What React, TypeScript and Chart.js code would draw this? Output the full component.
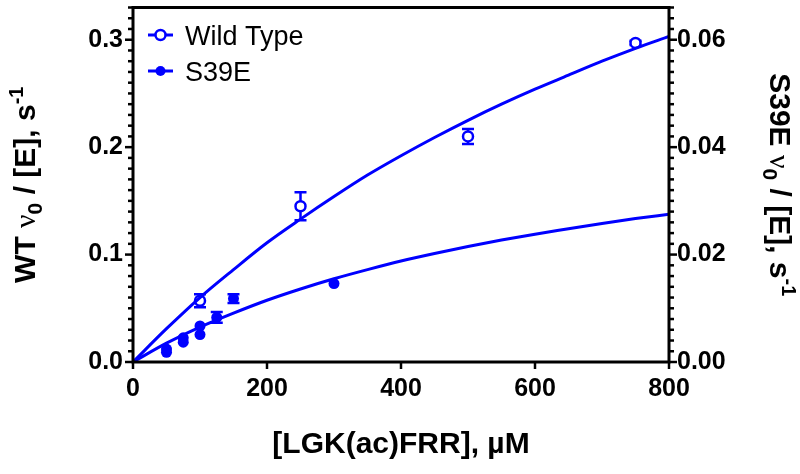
import React, { useEffect, useRef } from 'react';
import { Chart, registerables } from 'chart.js';

Chart.register(...registerables);

// ---- data ----
const xTicks = [0, 200, 400, 600, 800];
const wtTicks = [0, 0.1, 0.2, 0.3];
const s39eTicks = [0, 0.02, 0.04, 0.06];

const wtX = [100, 250, 500, 750];
const wtY = [0.057, 0.145, 0.21, 0.297];
const wtErr = [0.006, 0.013, 0.007, 0.002];

const s39eX = [50, 50, 75, 75, 100, 100, 125, 150, 300];
const s39eY = [0.0024, 0.0018, 0.0045, 0.0037, 0.0067, 0.0051, 0.0083, 0.0118, 0.0146];
const s39eErr = [0, 0, 0, 0, 0, 0, 0.001, 0.0008, 0];

const fitX = [0, 50, 100, 150, 200, 250, 300, 350, 400, 450, 500, 550, 600, 650, 700, 750, 800];
const wtFit = [0, 0.031, 0.06, 0.086, 0.111, 0.133, 0.154, 0.174, 0.192, 0.209, 0.225, 0.24, 0.254, 0.267, 0.28, 0.292, 0.303];
const s39eFit = [0, 0.0035, 0.0065, 0.0091, 0.0115, 0.0136, 0.0155, 0.0172, 0.0188, 0.0202, 0.0215, 0.0227, 0.0238, 0.0248, 0.0258, 0.0267, 0.0275];

const legendLabels = ['Wild Type', 'S39E'];

// ---- styles ----
const FONT = '"Liberation Sans", Arial, Helvetica, sans-serif';
const SERIF = '"Liberation Serif", "Times New Roman", serif';
const BLUE = '#0000ff';
const TICK_SIZE = 25;
const TITLE_SIZE = 30;

type Part = { text: string; font: string; dy: number };

function drawRich(ctx: CanvasRenderingContext2D, parts: Part[], cx: number, cy: number, angle: number, size: number) {
  ctx.save();
  ctx.translate(cx, cy);
  ctx.rotate(angle);
  ctx.textBaseline = 'alphabetic';
  ctx.textAlign = 'left';
  ctx.fillStyle = '#000';
  let total = 0;
  const widths = parts.map((p) => {
    ctx.font = p.font;
    const w = ctx.measureText(p.text).width;
    total += w;
    return w;
  });
  let x = -total / 2;
  const base = (size * 0.716) / 2;
  parts.forEach((p, i) => {
    ctx.font = p.font;
    ctx.fillText(p.text, x, base + p.dy);
    x += widths[i];
  });
  ctx.restore();
}

function titleParts(prefix: string): Part[] {
  return [
    { text: prefix + ' ', font: `bold ${TITLE_SIZE}px ${FONT}`, dy: 0 },
    { text: 'ν', font: `${TITLE_SIZE}px ${SERIF}`, dy: 0 },
    { text: '0', font: `bold ${Math.round(TITLE_SIZE * 0.7)}px ${FONT}`, dy: 7 },
    { text: ' / [E], s', font: `bold ${TITLE_SIZE}px ${FONT}`, dy: 0 },
    { text: '-1', font: `bold ${Math.round(TITLE_SIZE * 0.65)}px ${FONT}`, dy: -12 },
  ];
}

const decorPlugin = {
  id: 'decor',
  beforeDatasetsDraw(chart: any) {
    const ctx: CanvasRenderingContext2D = chart.ctx;
    const x = chart.scales.x;
    const y = chart.scales.y;
    const y2 = chart.scales.y2;
    ctx.save();
    ctx.strokeStyle = BLUE;
    ctx.lineWidth = 2.5;
    const cap = 6;
    const bar = (px: number, lo: number, hi: number) => {
      ctx.beginPath();
      ctx.moveTo(px, lo);
      ctx.lineTo(px, hi);
      ctx.moveTo(px - cap, lo);
      ctx.lineTo(px + cap, lo);
      ctx.moveTo(px - cap, hi);
      ctx.lineTo(px + cap, hi);
      ctx.stroke();
    };
    wtX.forEach((v, i) => {
      if (!wtErr[i]) return;
      bar(x.getPixelForValue(v), y.getPixelForValue(wtY[i] - wtErr[i]), y.getPixelForValue(wtY[i] + wtErr[i]));
    });
    s39eX.forEach((v, i) => {
      if (!s39eErr[i]) return;
      bar(x.getPixelForValue(v), y2.getPixelForValue(s39eY[i] - s39eErr[i]), y2.getPixelForValue(s39eY[i] + s39eErr[i]));
    });
    ctx.restore();
  },
  afterDraw(chart: any) {
    const ctx: CanvasRenderingContext2D = chart.ctx;
    const a = chart.chartArea;
    const x = chart.scales.x;
    const y = chart.scales.y;
    const y2 = chart.scales.y2;
    ctx.save();
    ctx.strokeStyle = '#000';
    ctx.lineWidth = 3;
    ctx.lineCap = 'butt';
    ctx.strokeRect(a.left, a.top, a.right - a.left, a.bottom - a.top);

    ctx.lineWidth = 2.5;
    // x major ticks
    xTicks.forEach((v) => {
      const px = x.getPixelForValue(v);
      ctx.beginPath();
      ctx.moveTo(px, a.bottom);
      ctx.lineTo(px, a.bottom + 7);
      ctx.stroke();
    });
    // left axis ticks
    for (let k = 0; k <= 33; k++) {
      const v = k / 100;
      const py = y.getPixelForValue(v);
      const major = k % 10 === 0;
      ctx.beginPath();
      ctx.moveTo(a.left, py);
      ctx.lineTo(a.left - (major ? 8 : 5), py);
      ctx.stroke();
    }
    // right axis ticks
    for (let k = 0; k <= 33; k++) {
      const v = k * 0.002;
      const py = y2.getPixelForValue(v);
      const major = k % 10 === 0;
      ctx.beginPath();
      ctx.moveTo(a.right, py);
      ctx.lineTo(a.right + (major ? 8 : 5), py);
      ctx.stroke();
    }

    // axis titles
    drawRich(ctx, titleParts('WT'), 24, (a.top + a.bottom) / 2, -Math.PI / 2, TITLE_SIZE);
    drawRich(ctx, titleParts('S39E'), 781, (a.top + a.bottom) / 2, Math.PI / 2, TITLE_SIZE);
    ctx.font = `bold ${TITLE_SIZE}px ${FONT}`;
    ctx.fillStyle = '#000';
    ctx.textAlign = 'center';
    ctx.textBaseline = 'alphabetic';
    ctx.fillText('[LGK(ac)FRR], µM', (a.left + a.right) / 2, 453);

    // legend
    const rows = [35, 71];
    ctx.font = `27px ${FONT}`;
    ctx.textAlign = 'left';
    rows.forEach((ry, i) => {
      ctx.strokeStyle = BLUE;
      ctx.lineWidth = 3;
      ctx.beginPath();
      ctx.moveTo(148, ry);
      ctx.lineTo(173, ry);
      ctx.stroke();
      ctx.beginPath();
      ctx.arc(160.5, ry, 5, 0, Math.PI * 2);
      if (i === 0) {
        ctx.fillStyle = '#fff';
        ctx.fill();
        ctx.lineWidth = 2.5;
        ctx.stroke();
      } else {
        ctx.fillStyle = BLUE;
        ctx.fill();
      }
      ctx.fillStyle = '#000';
      ctx.fillText(legendLabels[i], 185, ry + 10);
    });
    ctx.restore();
  },
};

const noPad = (s: any) => {
  s.paddingTop = 0;
  s.paddingBottom = 0;
  s.paddingLeft = 0;
  s.paddingRight = 0;
};

export default function App() {
  const ref = useRef<HTMLCanvasElement>(null);
  useEffect(() => {
    const tickFont = { family: FONT, size: TICK_SIZE, weight: 'bold' as const };
    const chart = new Chart(ref.current as HTMLCanvasElement, {
      type: 'scatter',
      data: {
        datasets: [
          {
            label: 'WT fit',
            data: fitX.map((v, i) => ({ x: v, y: wtFit[i] })),
            showLine: true,
            borderColor: BLUE,
            borderWidth: 3,
            pointRadius: 0,
            cubicInterpolationMode: 'monotone',
            yAxisID: 'y',
          },
          {
            label: 'S39E fit',
            data: fitX.map((v, i) => ({ x: v, y: s39eFit[i] })),
            showLine: true,
            borderColor: BLUE,
            borderWidth: 3,
            pointRadius: 0,
            cubicInterpolationMode: 'monotone',
            yAxisID: 'y2',
          },
          {
            label: legendLabels[0],
            data: wtX.map((v, i) => ({ x: v, y: wtY[i] })),
            pointRadius: 5,
            pointBackgroundColor: '#ffffff',
            pointBorderColor: BLUE,
            pointBorderWidth: 2.5,
            yAxisID: 'y',
          },
          {
            label: legendLabels[1],
            data: s39eX.map((v, i) => ({ x: v, y: s39eY[i] })),
            pointRadius: 5.5,
            pointBackgroundColor: BLUE,
            pointBorderColor: BLUE,
            pointBorderWidth: 0,
            yAxisID: 'y2',
          },
        ] as any,
      },
      options: {
        responsive: false,
        animation: false,
        layout: { padding: { top: 5, left: 0, right: 0, bottom: 0 } },
        plugins: { legend: { display: false }, tooltip: { enabled: false } },
        scales: {
          x: {
            type: 'linear',
            position: 'bottom',
            min: 0,
            max: 800,
            grid: { display: false, drawTicks: false },
            border: { display: false },
            ticks: { font: tickFont, color: '#000', padding: 12, maxRotation: 0, autoSkip: false },
            afterBuildTicks: (s: any) => {
              s.ticks = xTicks.map((v) => ({ value: v }));
            },
            afterFit: (s: any) => {
              s.height = 112;
              noPad(s);
            },
          },
          y: {
            type: 'linear',
            position: 'left',
            min: 0,
            max: 0.33,
            grid: { display: false, drawTicks: false },
            border: { display: false },
            ticks: {
              font: tickFont,
              color: '#000',
              padding: 10,
              callback: (v: any) => Number(v).toFixed(1),
            },
            afterBuildTicks: (s: any) => {
              s.ticks = wtTicks.map((v) => ({ value: v }));
            },
            afterFit: (s: any) => {
              s.width = 133;
              noPad(s);
            },
          },
          y2: {
            type: 'linear',
            position: 'right',
            min: 0,
            max: 0.066,
            grid: { display: false, drawTicks: false },
            border: { display: false },
            ticks: {
              font: tickFont,
              color: '#000',
              padding: 8,
              callback: (v: any) => Number(v).toFixed(2),
            },
            afterBuildTicks: (s: any) => {
              s.ticks = s39eTicks.map((v) => ({ value: v }));
            },
            afterFit: (s: any) => {
              s.width = 131;
              noPad(s);
            },
          },
        },
      } as any,
      plugins: [decorPlugin],
    });
    return () => chart.destroy();
  }, []);
  return (
    <div style={{ position: 'absolute', left: 0, top: 0, width: 800, height: 474, background: '#fff' }}>
      <canvas ref={ref} width={800} height={474} style={{ display: 'block', width: 800, height: 474 }} />
    </div>
  );
}
